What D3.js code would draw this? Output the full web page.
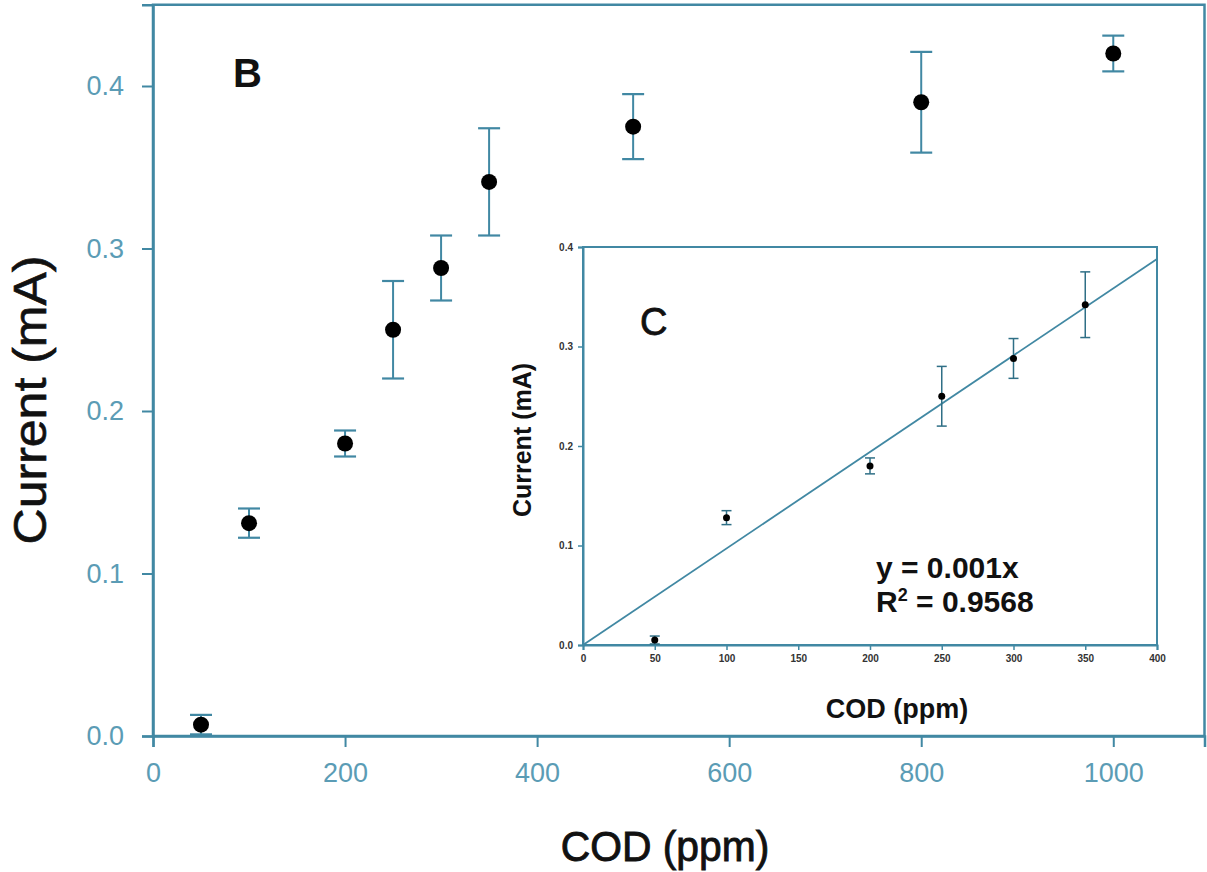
<!DOCTYPE html>
<html><head><meta charset="utf-8">
<script src="https://cdn.jsdelivr.net/npm/d3@7"></script>
<style>body{margin:0;background:#fff}svg{display:block;font-family:"Liberation Sans",Arial,sans-serif}</style>
</head><body><svg id="c" width="1207" height="872"></svg>
<script>
// Main panel (B) data
const codB = [50, 100, 200, 250, 300, 350, 500, 800, 1000];
const currentB = [0.007, 0.131, 0.180, 0.250, 0.288, 0.341, 0.375, 0.390, 0.420];
const errB = [0.006, 0.009, 0.008, 0.030, 0.020, 0.033, 0.020, 0.031, 0.011];
const xTicksB = [0, 200, 400, 600, 800, 1000];
const yTicksB = [0.0, 0.1, 0.2, 0.3, 0.4];
// Inset (C) data
const codC = [50, 100, 200, 250, 300, 350];
const currentC = [0.005, 0.128, 0.180, 0.250, 0.288, 0.342];
const errC = [0.004, 0.007, 0.008, 0.030, 0.020, 0.033];
const xTicksC = [0, 50, 100, 150, 200, 250, 300, 350, 400];
const yTicksC = [0.0, 0.1, 0.2, 0.3, 0.4];
const fitSlope = 0.00097;
const fitRange = [0, 400];

const teal = "#4188a3", tickTxt = "#5b9cb5";
const svg = d3.select("#c");
svg.append("rect").attr("width", 1207).attr("height", 872).attr("fill", "#fff");

// ---------- Main panel ----------
const x = d3.scaleLinear().domain([0, 1095]).range([153, 1204.5]);
const y = d3.scaleLinear().domain([0, 0.45]).range([736, 4.75]);

svg.append("rect").attr("x", x(0)).attr("y", y(0.45)).attr("width", x(1095) - x(0)).attr("height", y(0) - y(0.45))
  .attr("fill", "none").attr("stroke", teal).attr("stroke-width", 2.5);

const gx = svg.append("g").attr("transform", `translate(0,${y(0)})`)
  .call(d3.axisBottom(x).tickValues(xTicksB).tickSize(11).tickPadding(16).tickFormat(d3.format("d")));
const gy = svg.append("g").attr("transform", `translate(${x(0)},0)`)
  .call(d3.axisLeft(y).tickValues(yTicksB).tickSize(11).tickPadding(18).tickFormat(d3.format(".1f")));
[gx, gy].forEach(g => {
  g.select(".domain").attr("stroke", teal).attr("stroke-width", 2.5);
  g.selectAll(".tick line").attr("stroke", teal).attr("stroke-width", 2);
  g.selectAll(".tick text").attr("fill", tickTxt).attr("font-size", 27).attr("font-family", "Liberation Sans, Arial, sans-serif");
});

const eb = svg.append("g");
codB.forEach((c, i) => {
  const cx = x(c), y1 = y(currentB[i] + errB[i]), y0 = y(currentB[i] - errB[i]);
  eb.append("line").attr("x1", cx).attr("x2", cx).attr("y1", y1).attr("y2", y0).attr("stroke", teal).attr("stroke-width", 2);
  eb.append("line").attr("x1", cx - 11).attr("x2", cx + 11).attr("y1", y1).attr("y2", y1).attr("stroke", teal).attr("stroke-width", 2.2);
  eb.append("line").attr("x1", cx - 11).attr("x2", cx + 11).attr("y1", y0).attr("y2", y0).attr("stroke", teal).attr("stroke-width", 2.2);
});
svg.append("g").selectAll("circle").data(codB).join("circle")
  .attr("cx", d => x(d)).attr("cy", (d, i) => y(currentB[i])).attr("r", 8).attr("fill", "#000");

svg.append("text").attr("x", 233).attr("y", 87).attr("font-size", 40).attr("font-weight", "bold").attr("fill", "#111").text("B");
svg.append("text").attr("transform", "translate(665,861) scale(0.95,1)").attr("text-anchor", "middle")
  .attr("font-size", 43).attr("fill", "#111").attr("stroke", "#111").attr("stroke-width", 0.9).text("COD (ppm)");
svg.append("text").attr("transform", "translate(46,400) rotate(-90) scale(1,0.92)").attr("text-anchor", "middle")
  .attr("font-size", 50).attr("fill", "#111").attr("stroke", "#111").attr("stroke-width", 0.7).text("Current (mA)");

// ---------- Inset panel ----------
const xi = d3.scaleLinear().domain([0, 400]).range([583, 1157]);
const yi = d3.scaleLinear().domain([0, 0.4]).range([645, 247]);

svg.append("rect").attr("x", xi(0)).attr("y", yi(0.4)).attr("width", xi(400) - xi(0)).attr("height", yi(0) - yi(0.4))
  .attr("fill", "#fff").attr("stroke", teal).attr("stroke-width", 2);

const gxi = svg.append("g").attr("transform", `translate(0,${yi(0)})`)
  .call(d3.axisBottom(xi).tickValues(xTicksC).tickSize(5).tickPadding(5).tickFormat(d3.format("d")));
const gyi = svg.append("g").attr("transform", `translate(${xi(0)},0)`)
  .call(d3.axisLeft(yi).tickValues(yTicksC).tickSize(5).tickPadding(5).tickFormat(d3.format(".1f")));
[gxi, gyi].forEach(g => {
  g.select(".domain").attr("stroke", teal).attr("stroke-width", 2);
  g.selectAll(".tick line").attr("stroke", teal).attr("stroke-width", 1.5);
  g.selectAll(".tick text").attr("fill", "#333").attr("font-size", 10).attr("font-weight", "bold").attr("font-family", "Liberation Sans, Arial, sans-serif");
});

svg.append("line").attr("x1", xi(fitRange[0])).attr("y1", yi(fitSlope * fitRange[0]))
  .attr("x2", xi(fitRange[1])).attr("y2", yi(fitSlope * fitRange[1])).attr("stroke", teal).attr("stroke-width", 1.8);

const ebi = svg.append("g");
codC.forEach((c, i) => {
  const cx = xi(c), y1 = yi(currentC[i] + errC[i]), y0 = yi(currentC[i] - errC[i]);
  ebi.append("line").attr("x1", cx).attr("x2", cx).attr("y1", y1).attr("y2", y0).attr("stroke", "#2f6f86").attr("stroke-width", 1.5);
  ebi.append("line").attr("x1", cx - 5).attr("x2", cx + 5).attr("y1", y1).attr("y2", y1).attr("stroke", "#2f6f86").attr("stroke-width", 1.5);
  ebi.append("line").attr("x1", cx - 5).attr("x2", cx + 5).attr("y1", y0).attr("y2", y0).attr("stroke", "#2f6f86").attr("stroke-width", 1.5);
});
svg.append("g").selectAll("circle").data(codC).join("circle")
  .attr("cx", d => xi(d)).attr("cy", (d, i) => yi(currentC[i])).attr("r", 3.5).attr("fill", "#000");

svg.append("text").attr("x", 640).attr("y", 335).attr("font-size", 38).attr("fill", "#111").attr("stroke", "#111").attr("stroke-width", 0.8).text("C");
svg.append("text").attr("x", 876).attr("y", 578).attr("font-size", 30).attr("font-weight", "bold").attr("fill", "#111").text("y = 0.001x");
const r2 = svg.append("text").attr("x", 876).attr("y", 612).attr("font-size", 30).attr("font-weight", "bold").attr("fill", "#111");
r2.append("tspan").text("R");
r2.append("tspan").attr("font-size", 18).attr("dy", -11).text("2");
r2.append("tspan").attr("dy", 11).text(" = 0.9568");
svg.append("text").attr("transform", "translate(897,718)").attr("text-anchor", "middle")
  .attr("font-size", 27).attr("font-weight", "bold").attr("fill", "#111").text("COD (ppm)");
svg.append("text").attr("transform", "translate(531,440) rotate(-90)").attr("text-anchor", "middle")
  .attr("font-size", 25).attr("font-weight", "bold").attr("fill", "#111").text("Current (mA)");
</script></body></html>
